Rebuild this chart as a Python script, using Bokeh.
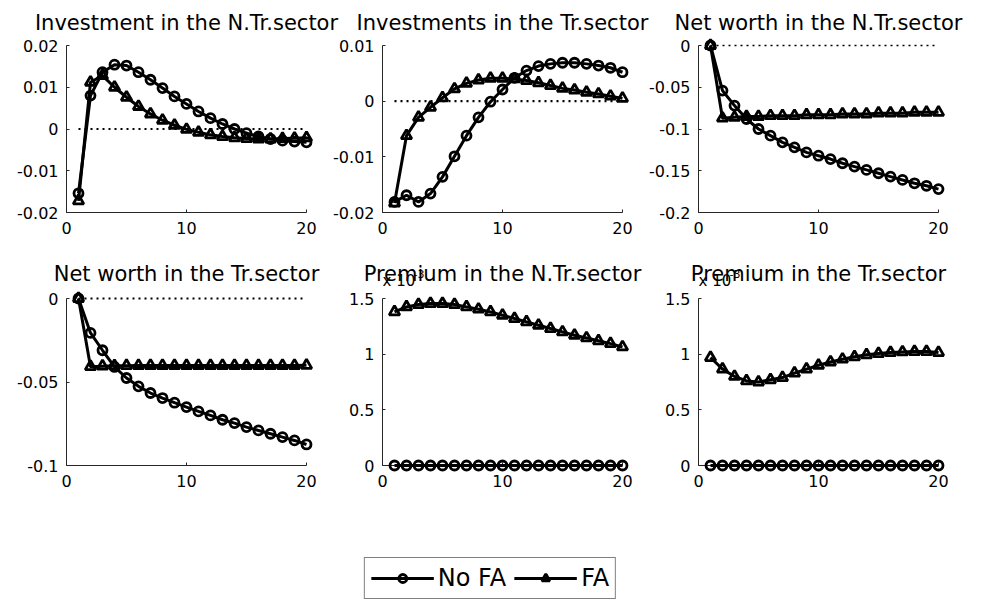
from bokeh.plotting import figure
from bokeh.layouts import column, row
from bokeh.models import Range1d, FixedTicker, Legend, LegendItem, Label, ColumnDataSource
from bokeh.embed import file_html
from bokeh.resources import INLINE

# ---------------- data ----------------
periods = list(range(1, 21))

inv_ntr_nofa = [-0.0154, 0.0080, 0.0136, 0.0154, 0.0152, 0.0136, 0.0118, 0.0098, 0.0078, 0.0060,
                0.0042, 0.0026, 0.0012, 0.0000, -0.0010, -0.0018, -0.0024, -0.0028, -0.0030, -0.0032]
inv_ntr_fa = [-0.0172, 0.0112, 0.0128, 0.0100, 0.0076, 0.0054, 0.0036, 0.0021, 0.0009, -0.0001,
              -0.0008, -0.0014, -0.0018, -0.0021, -0.0023, -0.0024, -0.0024, -0.0023, -0.0022, -0.0021]

inv_tr_nofa = [-0.0181, -0.0169, -0.0181, -0.0166, -0.0136, -0.0099, -0.0062, -0.0029, -0.0001, 0.0021,
               0.0042, 0.0055, 0.0063, 0.0067, 0.0069, 0.0069, 0.0067, 0.0064, 0.0060, 0.0052]
inv_tr_fa = [-0.0183, -0.0062, -0.0029, -0.0011, 0.0006, 0.0022, 0.0032, 0.0038, 0.0041, 0.0041,
             0.0040, 0.0037, 0.0033, 0.0028, 0.0023, 0.0020, 0.0016, 0.0013, 0.0009, 0.0005]

nw_ntr_nofa = [0.0, -0.054, -0.072, -0.088, -0.100, -0.108, -0.116, -0.122, -0.128, -0.132,
               -0.136, -0.141, -0.145, -0.149, -0.153, -0.157, -0.161, -0.165, -0.168, -0.172]
nw_ntr_fa = [0.0, -0.087, -0.086, -0.085, -0.085, -0.084, -0.084, -0.084, -0.083, -0.083,
             -0.083, -0.082, -0.082, -0.082, -0.081, -0.081, -0.081, -0.080, -0.080, -0.080]

nw_tr_nofa = [0.0, -0.0206, -0.0310, -0.0410, -0.0476, -0.0526, -0.0566, -0.0596, -0.0624, -0.0650,
              -0.0676, -0.0700, -0.0726, -0.0746, -0.0770, -0.0790, -0.0810, -0.0830, -0.0850, -0.0874]
nw_tr_fa = [0.0, -0.0408, -0.0405, -0.0403, -0.0402, -0.0401, -0.0401, -0.0401, -0.0401, -0.0401,
            -0.0401, -0.0401, -0.0401, -0.0401, -0.0401, -0.0401, -0.0401, -0.0401, -0.0401, -0.0400]

# premium series in units of 10^-3
prem_ntr_nofa = [0.0] * 20
prem_ntr_fa = [1.380, 1.425, 1.446, 1.455, 1.455, 1.446, 1.425, 1.404, 1.380, 1.350,
               1.320, 1.290, 1.260, 1.230, 1.200, 1.170, 1.146, 1.120, 1.095, 1.065]
prem_tr_nofa = [0.0] * 20
prem_tr_fa = [0.970, 0.866, 0.800, 0.760, 0.750, 0.770, 0.790, 0.830, 0.866, 0.900,
              0.930, 0.955, 0.976, 0.994, 1.006, 1.015, 1.020, 1.024, 1.024, 1.015]

titles_top = ["Investment in the N.Tr.sector", "Investments in the Tr.sector", "Net worth in the N.Tr.sector"]
titles_bottom = ["Net worth in the Tr.sector", "Premium in the N.Tr.sector", "Premium in the Tr.sector"]

x_ticks = [0, 10, 20]
yt1 = [-0.02, -0.01, 0, 0.01, 0.02]
yl1 = ["-0.02", "-0.01", "0", "0.01", "0.02"]
yt2 = [-0.02, -0.01, 0, 0.01]
yl2 = ["-0.02", "-0.01", "0", "0.01"]
yt3 = [-0.2, -0.15, -0.1, -0.05, 0]
yl3 = ["-0.2", "-0.15", "-0.1", "-0.05", "0"]
yt4 = [-0.1, -0.05, 0]
yl4 = ["-0.1", "-0.05", "0"]
yt5 = [0, 0.5, 1, 1.5]
yl5 = ["0", "0.5", "1", "1.5"]
scale_label = "x 10"
scale_exp = "-3"
legend_labels = ["No FA", "FA"]

# ---------------- layout constants ----------------
FONT = "DejaVu Sans"
AX = "#262626"
FRAME_W, FRAME_H = 240, 167
LEFT0, STEP = 66, 316
PAGE_W = 990
LW, MLW = 3.0, 2.8
CIRCLE, TRI = 9, 10.5
TEXT_SHIFT = 7


def panel(nofa, fa, ylim, yticks, ylabels, left_border, right_border, top_border, bottom_border,
          zero=True, zero_w=2.2):
    p = figure(frame_width=FRAME_W, frame_height=FRAME_H, x_range=Range1d(0, 20), y_range=Range1d(*ylim),
               output_backend="svg", toolbar_location=None, title=None,
               min_border_left=left_border, min_border_right=right_border, min_border_top=top_border,
               min_border_bottom=bottom_border, outline_line_color=None)
    p.grid.visible = False
    for ax in (p.xaxis[0], p.yaxis[0]):
        ax.axis_line_color = AX
        ax.axis_line_width = 1
        ax.major_tick_line_color = AX
        ax.major_tick_in = 3
        ax.major_tick_out = 0
        ax.minor_tick_line_color = None
        ax.major_label_text_font = FONT
        ax.major_label_text_font_size = "16px"
        ax.major_label_text_color = "black"
    p.xaxis[0].ticker = FixedTicker(ticks=x_ticks)
    p.xaxis[0].major_label_standoff = 9
    p.yaxis[0].ticker = FixedTicker(ticks=yticks)
    p.yaxis[0].major_label_overrides = dict(zip(yticks, ylabels))
    p.yaxis[0].major_label_standoff = 8

    rs = []
    if zero:
        rs.append(p.line([periods[0], periods[-1]], [0, 0], line_color="black", line_width=zero_w,
                         line_dash="2 4"))
    src_n = ColumnDataSource(dict(x=periods, y=nofa))
    src_f = ColumnDataSource(dict(x=periods, y=fa))
    rs += [
        p.line("x", "y", source=src_n, line_color="black", line_width=LW),
        p.scatter("x", "y", source=src_n, marker="circle", size=CIRCLE, fill_color=None,
                  line_color="black", line_width=MLW),
        p.line("x", "y", source=src_f, line_color="black", line_width=LW),
        p.scatter("x", "y", source=src_f, marker="triangle", size=TRI, fill_color=None,
                  line_color="black", line_width=MLW),
    ]
    for r in rs:
        r.level = "annotation"
    return p


def strip(height, titles, baseline, scale_cols=()):
    s = figure(width=PAGE_W, height=height, x_range=Range1d(0, PAGE_W), y_range=Range1d(0, height),
               x_axis_location=None, y_axis_location=None, min_border=0, outline_line_color=None,
               toolbar_location=None, output_backend="svg", title=None)
    s.grid.visible = False
    for i, t in enumerate(titles):
        cx = LEFT0 + i * STEP + FRAME_W / 2
        s.add_layout(Label(x=cx, y=baseline + TEXT_SHIFT, text=t, text_align="center",
                           text_baseline="alphabetic",
                           text_font=FONT, text_font_size="21px", text_color="black"))
    for i in scale_cols:
        fx = LEFT0 + i * STEP
        s.add_layout(Label(x=fx, y=1 + TEXT_SHIFT, text=scale_label, text_align="left",
                           text_baseline="alphabetic",
                           text_font=FONT, text_font_size="15px", text_color="black"))
        s.add_layout(Label(x=fx + 31, y=8 + TEXT_SHIFT, text=scale_exp, text_align="left",
                           text_baseline="alphabetic",
                           text_font=FONT, text_font_size="11px", text_color="black"))
    return s


s1 = strip(33, titles_top, 4)
p1 = panel(inv_ntr_nofa, inv_ntr_fa, (-0.02, 0.02), yt1, yl1, 66, 18, 12, 41)
p2 = panel(inv_tr_nofa, inv_tr_fa, (-0.02, 0.01), yt2, yl2, 58, 18, 12, 41)
p3 = panel(nw_ntr_nofa, nw_ntr_fa, (-0.2, 0.0), yt3, yl3, 58, 52, 12, 41, zero_w=1.6)

s2 = strip(35, titles_bottom, 8, scale_cols=(1, 2))
p4 = panel(nw_tr_nofa, nw_tr_fa, (-0.1, 0.0), yt4, yl4, 66, 18, 10, 35)
p5 = panel(prem_ntr_nofa, prem_ntr_fa, (0.0, 1.5), yt5, yl5, 58, 18, 10, 35, zero=False)
p6 = panel(prem_tr_nofa, prem_tr_fa, (0.0, 1.5), yt5, yl5, 58, 52, 10, 35, zero=False)

# legend panel: sample renderers kept outside the visible range
lg = figure(width=980, height=100, x_range=Range1d(-100, -99), y_range=Range1d(-100, -99),
            x_axis_location=None, y_axis_location=None, min_border=0, title=None,
            outline_line_color=None, toolbar_location=None, output_backend="svg")
lg.grid.visible = False
ln = lg.line(periods, prem_ntr_nofa, line_color="black", line_width=LW)
sn = lg.scatter(periods, prem_ntr_nofa, marker="circle", size=CIRCLE, fill_color=None, line_color="black",
                line_width=MLW)
lf = lg.line(periods, prem_ntr_fa, line_color="black", line_width=LW)
sf = lg.scatter(periods, prem_ntr_fa, marker="triangle", size=TRI, fill_color=None, line_color="black",
                line_width=MLW)
legend = Legend(items=[LegendItem(label=legend_labels[0], renderers=[ln, sn]),
                       LegendItem(label=legend_labels[1], renderers=[lf, sf])],
                orientation="horizontal", location="bottom_center", margin=1,
                glyph_width=63, glyph_height=20, label_standoff=4, spacing=8, padding=6,
                label_text_font=FONT, label_text_font_size="24px", label_text_color="black",
                border_line_color="black", border_line_width=1, background_fill_color="white",
                background_fill_alpha=1.0)
lg.add_layout(legend)

layout = column(s1, row(p1, p2, p3), s2, row(p4, p5, p6), lg)

open("out.html", "w").write(file_html(layout, INLINE))
